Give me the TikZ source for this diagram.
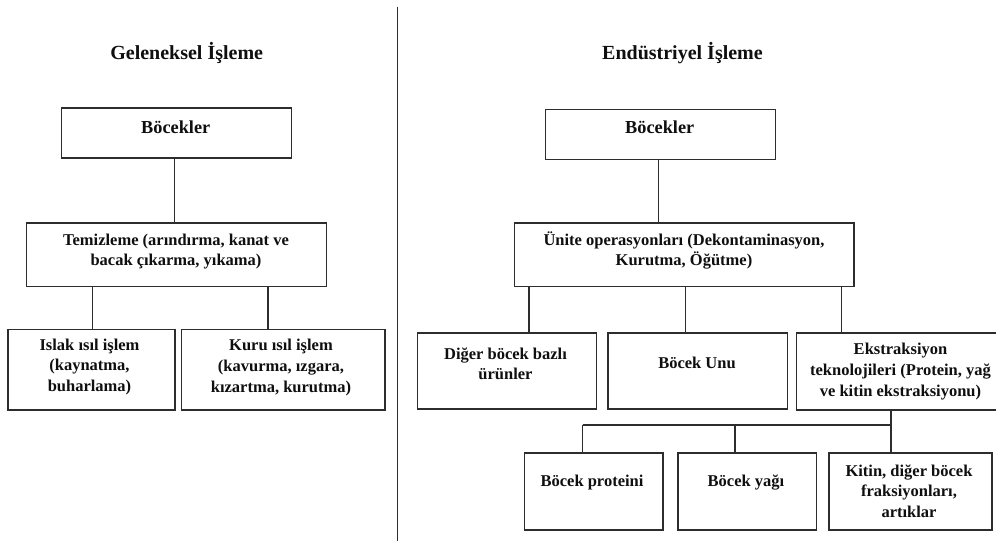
\documentclass[tikz,border=0pt]{standalone}
\usepackage{fontspec}
\setmainfont{Liberation Serif}
\begin{document}
\begin{tikzpicture}[x=1pt,y=-1pt,
  box/.style={draw=lc, line width=1.3pt, inner sep=0pt, anchor=north west},
  txt/.style={font=\fontsize{16.5}{20.7}\selectfont\bfseries, text=tc, align=center, inner sep=0pt},
  bigtxt/.style={txt, font=\fontsize{18.3}{22}\selectfont\bfseries},
  ttl/.style={font=\fontsize{20}{24}\selectfont\bfseries, text=tc, inner sep=0pt},
  conn/.style={draw=lc, line width=1.2pt}]
\definecolor{lc}{RGB}{45,45,45}
\definecolor{tc}{RGB}{15,15,15}
\useasboundingbox (0,0) rectangle (996,541);
\clip (0,0) rectangle (996,541);
\fill[white] (0,0) rectangle (996,541);

% divider
\coordinate (dtop) at (397.5,6.7);
\coordinate (dbot) at (397.5,541);
\draw[draw=lc, line width=1.3pt] (dtop) -- (dbot);

% titles
\node[ttl] (tL) at (186.7,53.3) {Geleneksel İşleme};
\node[ttl] (tR) at (682.5,53.3) {Endüstriyel İşleme};

% left boxes
\node[box, minimum width=230pt, minimum height=50pt] (LB) at (60.7,107.3) {};
\node[box, minimum width=299.7pt, minimum height=63.7pt] (LT) at (26,222.3) {};
\node[box, minimum width=167pt, minimum height=80.3pt] (LI) at (7.3,329) {};
\node[box, minimum width=203.6pt, minimum height=80.3pt] (LK) at (180.7,329) {};

% right boxes
\node[box, minimum width=230pt, minimum height=50pt] (RB) at (544.7,108.7) {};
\node[box, minimum width=339.3pt, minimum height=63.7pt] (RU) at (514,222.3) {};
\node[box, minimum width=179.3pt, minimum height=76pt] (RD) at (416.7,332.3) {};
\node[box, minimum width=179.7pt, minimum height=76pt] (RBU) at (607.3,332.3) {};
\node[box, minimum width=209pt, minimum height=77pt] (RE) at (796,332.3) {};
\node[box, minimum width=138.6pt, minimum height=77pt] (RP) at (523.7,452.3) {};
\node[box, minimum width=138.7pt, minimum height=77pt] (RY) at (677.3,452.3) {};
\node[box, minimum width=163pt, minimum height=77pt] (RK) at (828.3,452.3) {};

% texts
\node[bigtxt] (xLB) at (175.7,127.3) {Böcekler};
\node[txt] (xLT) at (176,251.5) {Temizleme (arındırma, kanat ve\\bacak çıkarma, yıkama)};
\node[txt] (xLI) at (89.5,366.8) {Islak ısıl işlem\\(kaynatma,\\buharlama)};
\node[txt] (xLK) at (281,367.5) {Kuru ısıl işlem\\(kavurma, ızgara,\\kızartma, kurutma)};
\node[bigtxt] (xRB) at (659.7,127.3) {Böcekler};
\node[txt] (xRU) at (684,250.5) {Ünite operasyonları (Dekontaminasyon,\\Kurutma, Öğütme)};
\node[txt] (xRD) at (505.5,363.8) {Diğer böcek bazlı\\ürünler};
\node[txt] (xRBU) at (697,362.7) {Böcek Unu};
\node[txt] (xRE) at (900.5,371.5) {Ekstraksiyon\\teknolojileri (Protein, yağ\\ve kitin ekstraksiyonu)};
\node[txt] (xRP) at (592,482.7) {Böcek proteini};
\node[txt] (xRY) at (746,482.7) {Böcek yağı};
\node[txt] (xRK) at (909,491) {Kitin, diğer böcek\\fraksiyonları,\\artıklar};

% connector columns
\coordinate (cL1) at (174.3,0);
\coordinate (cL2) at (92.3,0);
\coordinate (cL3) at (268,0);
\coordinate (cR1) at (658.7,0);
\coordinate (cR2) at (529,0);
\coordinate (cR3) at (685.7,0);
\coordinate (cR4) at (841.7,0);
\coordinate (cR5) at (891,0);
\coordinate (cR6) at (582.7,0);
\coordinate (cR7) at (735,0);
\coordinate (bus) at (0,425);

% left connectors
\draw[conn] (LB.south -| cL1) -- (LT.north -| cL1);
\draw[conn] (LT.south -| cL2) -- (LI.north -| cL2);
\draw[conn] (LT.south -| cL3) -- (LK.north -| cL3);

% right connectors
\draw[conn] (RB.south -| cR1) -- (RU.north -| cR1);
\draw[conn] (RU.south -| cR2) -- (RD.north -| cR2);
\draw[conn] (RU.south -| cR3) -- (RBU.north -| cR3);
\draw[conn] (RU.south -| cR4) -- (RE.north -| cR4);
\draw[conn] (RE.south -| cR5) -- (RK.north -| cR5);
\draw[conn] (bus -| cR6) -- (bus -| cR5);
\draw[conn] (bus -| cR6) -- (RP.north -| cR6);
\draw[conn] (bus -| cR7) -- (RY.north -| cR7);
\end{tikzpicture}
\end{document}
